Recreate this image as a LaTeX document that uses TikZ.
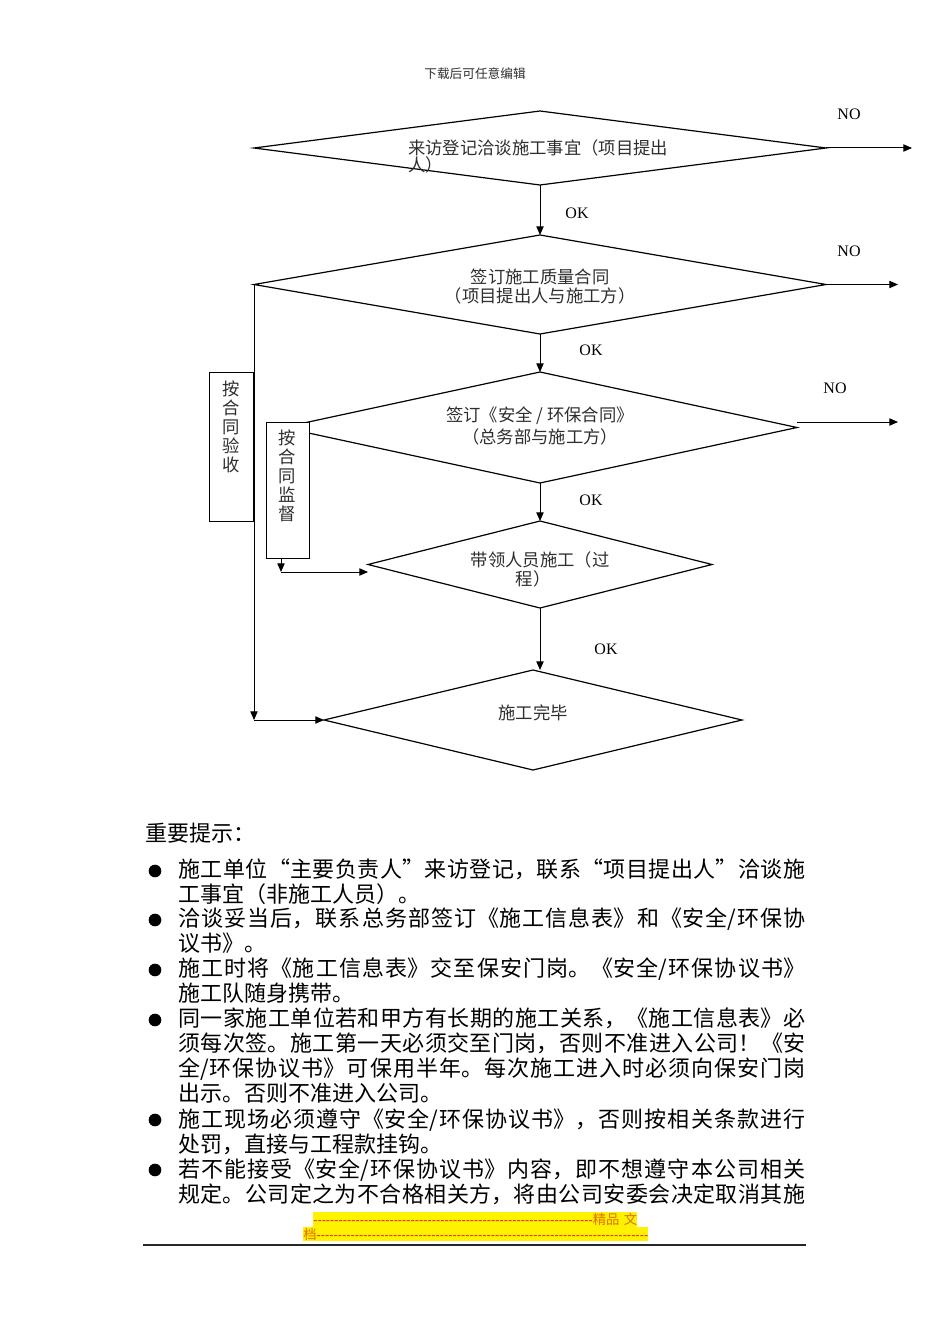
\documentclass[tikz,border=0pt]{standalone}
\usepackage{fontspec}
\setmainfont{Liberation Serif}
\newfontfamily\cjk{Noto Sans CJK SC}
\newfontfamily\dashfont{Liberation Sans}
\usetikzlibrary{shapes.geometric,arrows.meta}
\XeTeXlinebreaklocale "zh"
\XeTeXlinebreakskip=0pt plus 4pt
\definecolor{txtgray}{rgb}{0.18,0.18,0.18}
\definecolor{dashred}{rgb}{0.92,0.12,0.05}
\definecolor{charorange}{rgb}{0.88,0.42,0.0}
\begin{document}
\begin{tikzpicture}[x=0.75pt,y=-0.75pt,
  dia/.style={draw, line width=0.9pt, shape=diamond, inner sep=0pt, outer sep=0pt},
  vbox/.style={draw, line width=0.75pt, fill=white, rectangle, inner sep=0pt, outer sep=0pt},
  dtext/.style={inner sep=0pt, text=txtgray, font=\cjk\fontsize{13}{12.75}\selectfont},
  vtext/.style={inner sep=0pt, anchor=north, align=center, text=txtgray, font=\cjk\fontsize{13}{14.25}\selectfont},
  lab/.style={inner sep=0pt, font=\fontsize{12}{14}\selectfont},
  arr/.style={line width=0.75pt, -{Triangle[length=6.5pt,width=5.5pt]}},
  para/.style={anchor=north west, inner sep=0pt, text width=470.25pt, align=justify, font=\cjk\fontsize{16.5}{18.75}\selectfont},
  bul/.style={circle, fill=black, inner sep=0pt, minimum size=9.5pt},
  foot/.style={fill=yellow, inner sep=0pt, anchor=north west, minimum height=11pt}
]
\useasboundingbox (0,0) rectangle (950,1344);

% header
\node[inner sep=0pt, text=txtgray, font=\cjk\fontsize{9.5}{11}\selectfont] (hdr) at (475,74) {下载后可任意编辑};

% diamonds
\node[dia, minimum width=429pt, minimum height=55.5pt] (d1) at (540,148) {};
\node[dia, minimum width=429pt, minimum height=74.25pt] (d2) at (540,284.5) {};
\node[dia, minimum width=385.5pt, minimum height=83.25pt] (d3) at (540,427.5) {};
\node[dia, minimum width=258pt, minimum height=65.25pt] (d4) at (540,564.5) {};
\node[dia, minimum width=313.5pt, minimum height=75pt] (d5) at (533,720) {};

% diamond texts
\node[dtext, anchor=west] (t1a) at (408,148) {来访登记洽谈施工事宜（项目提出};
\node[dtext, anchor=west] (t1b) at (408,165) {人）};
\node[dtext] (t2a) at (540,277) {签订施工质量合同};
\node[dtext] (t2b) at (540,296) {（项目提出人与施工方）};
\node[dtext] (t3a) at (540,416) {签订《安全 / 环保合同》};
\node[dtext] (t3b) at (540,437) {（总务部与施工方）};
\node[dtext] (t4a) at (540,560) {带领人员施工（过};
\node[dtext] (t4b) at (533,579) {程）};
\node[dtext] (t5) at (533,713) {施工完毕};

% side boxes
\node[vbox, minimum width=33pt, minimum height=111.75pt] (b1) at (231,446.5) {};
\node[vtext] (b1t) at (231,381) {按\\合\\同\\验\\收};
\node[vbox, minimum width=32.25pt, minimum height=102pt] (b2) at (287.5,490) {};
\node[vtext] (b2t) at (287.5,430) {按\\合\\同\\监\\督};

% labels
\node[lab] (no1l) at (849,114) {NO};
\node[lab] (no2l) at (849,251) {NO};
\node[lab] (no3l) at (835,388) {NO};
\node[lab] (ok1) at (577,213) {OK};
\node[lab] (ok2) at (591,350) {OK};
\node[lab] (ok3) at (591,500) {OK};
\node[lab] (ok4) at (606,649) {OK};

% coordinates
\coordinate (no1) at (912,148);
\coordinate (no2) at (898,284.5);
\coordinate (no3) at (898,422);
\coordinate (k) at (281,572);
\coordinate (lc) at (d2.west |- d5.west);

% connectors
\draw[arr] (d1.south) -- (d2.north);
\draw[arr] (d2.south) -- (d3.north);
\draw[arr] (d3.south) -- (d4.north);
\draw[arr] (d4.south) -- (d4.south |- d5.north);
\draw[arr] (d1.east) -- (no1);
\draw[arr] (d2.east) -- (no2);
\draw[arr] (no3 -| d3.east) -- (no3);
\draw[arr] (d2.west) -- (lc);
\draw[arr] (lc) -- (d5.west);
\draw[arr] (k |- b2.south) -- (k);
\draw[arr] (k) -- (k -| d4.west);

% notes
\node[anchor=west, inner sep=0pt, font=\cjk\fontsize{16.5}{18.75}\selectfont] (head) at (145,833) {重要提示：};

\node[bul] (p1) at (155,871) {};
\node[para] (q1) at (178,859) {施工单位“主要负责人”来访登记，联系“项目提出人”洽谈施\linebreak 工事宜（非施工人员）。};
\node[bul] (p2) at (155,920) {};
\node[para] (q2) at (178,908) {洽谈妥当后，联系总务部签订《施工信息表》和《安全/环保协\linebreak 议书》。};
\node[bul] (p3) at (155,970) {};
\node[para] (q3) at (178,958) {施工时将《施工信息表》交至保安门岗。《安全/环保协议书》\linebreak 施工队随身携带。};
\node[bul] (p4) at (155,1020) {};
\node[para] (q4) at (178,1008) {同一家施工单位若和甲方有长期的施工关系，《施工信息表》必\linebreak 须每次签。施工第一天必须交至门岗，否则不准进入公司！《安\linebreak 全/环保协议书》可保用半年。每次施工进入时必须向保安门岗\linebreak 出示。否则不准进入公司。};
\node[bul] (p5) at (155,1120) {};
\node[para] (q5) at (178,1108) {施工现场必须遵守《安全/环保协议书》，否则按相关条款进行\linebreak 处罚，直接与工程款挂钩。};
\node[bul] (p6) at (155,1170) {};
\node[para] (q6) at (178,1158) {\parfillskip=0pt 若不能接受《安全/环保协议书》内容，即不想遵守本公司相关\linebreak 规定。公司定之为不合格相关方，将由公司安委会决定取消其施\par};

% footer
\node[foot] (f1) at (313,1212) {\hbox to 243pt{\dashfont\fontsize{9.5}{10}\selectfont\color{dashred}\xleaders\hbox{-}\hfill{\cjk\fontsize{10}{10}\selectfont\color{charorange}精品\,\,文}}};
\node[foot] (f2) at (303,1226.5) {\hbox to 258.75pt{\dashfont\fontsize{9.5}{10}\selectfont{\cjk\fontsize{10}{10}\selectfont\color{charorange}档}\color{dashred}\xleaders\hbox{-}\hfill}};
\draw[line width=1.1pt, black!85] (143,1245) -- (806,1245);
\end{tikzpicture}
\end{document}
